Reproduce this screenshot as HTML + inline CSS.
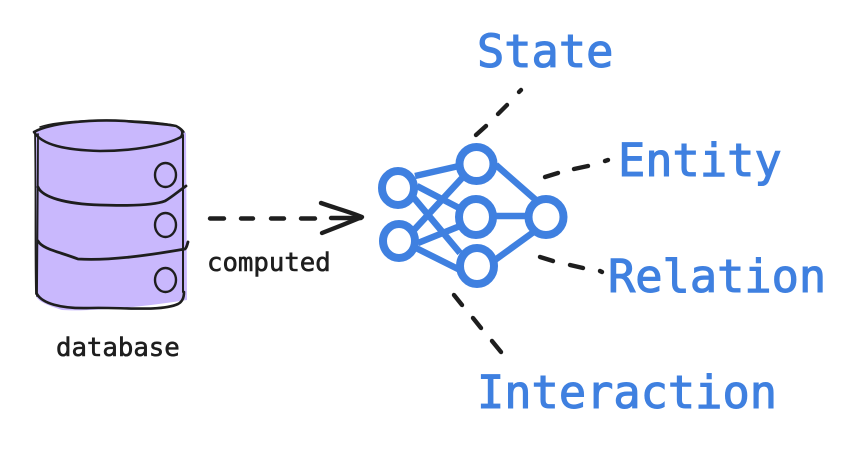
<!DOCTYPE html>
<html><head><meta charset="utf-8"><style>
html,body{margin:0;padding:0;background:#fff}
svg{display:block}
.b{font-family:"DejaVu Sans Mono","Liberation Mono",monospace;fill:#3f80e0;stroke:#3f80e0;stroke-width:1.1px;font-size:45.300px;paint-order:stroke}
.s{font-family:"DejaVu Sans Mono","Liberation Mono",monospace;fill:#1e1e1e;stroke:#1e1e1e;stroke-width:.6px;font-size:25.700px}
</style></head><body>
<svg width="866" height="454" viewBox="0 0 866 454" xmlns="http://www.w3.org/2000/svg">
<rect width="866" height="454" fill="#fff"/>
<path d="M35 132C50 123 90 120 120 121C150 122 175 124 186 133L187 300C150 306 90 312 62 310C50 306 38 302 36 296Z" fill="#c9b8fd"/>
<g fill="none" stroke="#1e1e1e" stroke-width="2.600" stroke-linecap="round" stroke-linejoin="round">
<path d="M34 132C50 123 90 119 125 121C150 123 168 124 176 126C182 129 184 132 181 137C165 146 130 151 100 151C65 150 42 145 34 132Z"/>
<path d="M40 127C60 120 110 119 150 122C170 124 180 125 184 132" stroke-width="1.500"/>
<path d="M35 132C36 190 35 250 36 294" stroke-width="1.800"/>
<path d="M38 134C38 190 37 250 37 296" stroke-width="1.800"/>
<path d="M183 135C183 190 183 250 183 292" stroke-width="2"/>
<path d="M37 294C42 303 60 309 90 308C120 307 160 312 178 304C182 302 184 298 184 292"/>
<path d="M38 187C42 197 65 204 100 205C130 206 155 205 165 201C172 197 180 190 186 186" stroke-width="2.800"/>
<path d="M38 241C42 249 60 252 78 259C110 261 150 255 185 249C187 247 187 245 188 242" stroke-width="2.800"/>
<ellipse cx="165.500" cy="175" rx="10.500" ry="12" stroke-width="2.400"/>
<ellipse cx="165.500" cy="225" rx="10.500" ry="12" stroke-width="2.400"/>
<ellipse cx="165.500" cy="280" rx="10.500" ry="12" stroke-width="2.400"/>
</g>
<g fill="none" stroke="#1e1e1e" stroke-width="4.400" stroke-linecap="round" stroke-linejoin="round">
<path d="M210 218.500H224M241 218.500H253M271 218.500H284M301 218.500H315M331 218H361"/>
<path d="M321 203C335 208 350 212 362 217C350 222 335 228 322 233"/>
<path d="M476 135L486 126M498 114L507 105M519 92L521 90"/>
<path d="M545 177L558 173M574 169L588 166M605 161L608 160"/>
<path d="M540 257L553 261M570 265L583 268M600 271L602 272"/>
<path d="M454 295L462 305M473 318L481 328M492 341L501 352"/>
</g>
<g fill="none" stroke="#3f80e0" stroke-width="8" stroke-linecap="round" stroke-linejoin="round">
<ellipse cx="398" cy="188" rx="16" ry="17"/>
<ellipse cx="399" cy="241" rx="16" ry="17"/>
<ellipse cx="476.500" cy="164" rx="17" ry="17"/>
<ellipse cx="476" cy="217" rx="17" ry="18"/>
<ellipse cx="477" cy="266" rx="17" ry="18"/>
<ellipse cx="546" cy="217" rx="17.500" ry="18"/>
<path d="M415 176L459 166M417 186L461 209M414 198L460 253M414 230L463 177M418 243L460 226M416 248L460 270M496 165L537 201M495 216H527M495 260L535 231" stroke-width="6.500" stroke-linecap="butt"/>
</g>
<text class="b" x="477" y="67">State</text>
<text class="b" x="618" y="176">Entity</text>
<text class="b" x="608" y="292">Relation</text>
<text class="b" x="477" y="408">Interaction</text>
<text class="s" x="207" y="271">computed</text>
<text class="s" x="56" y="356">database</text>
</svg>
</body></html>
